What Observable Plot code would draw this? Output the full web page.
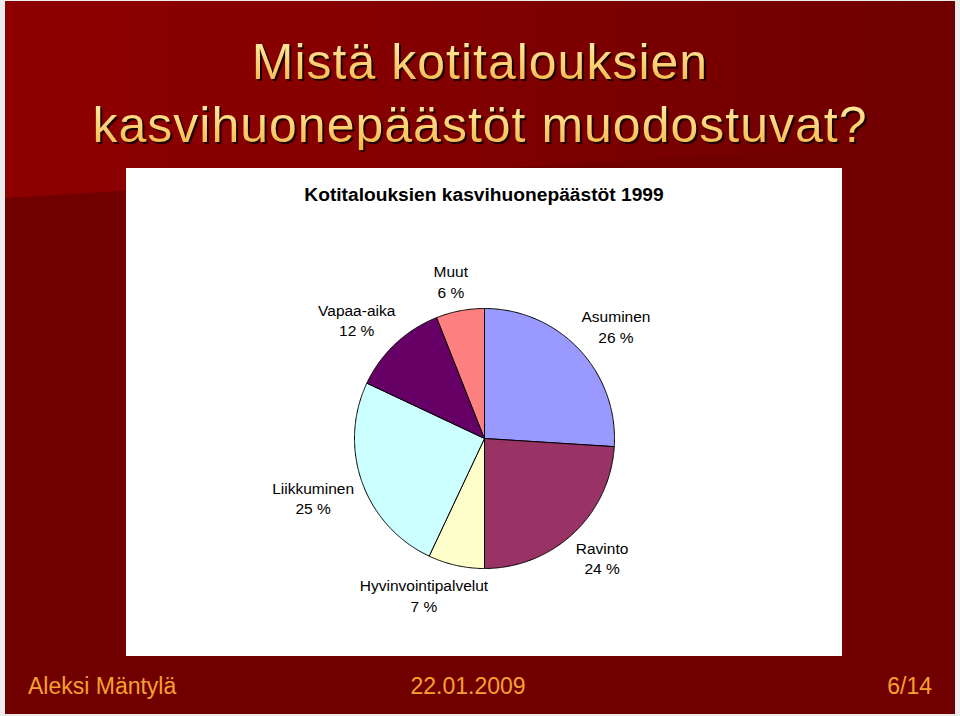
<!DOCTYPE html>
<html>
<head>
<meta charset="utf-8">
<script src="https://cdn.jsdelivr.net/npm/d3@7"></script>
<script src="https://cdn.jsdelivr.net/npm/@observablehq/plot@0.6"></script>
<style>
  html, body { margin: 0; padding: 0; }
  body { width: 960px; height: 716px; overflow: hidden; font-family: "Liberation Sans", Arial, sans-serif; }
  #page { position: relative; width: 960px; height: 716px; background: #ececec; }
  #slide { position: absolute; left: 5px; top: 1px; width: 950px; height: 713px; background: #700000; overflow: hidden; }
  #upper { position: absolute; left: 0; top: 0; width: 950px; height: 210px;
    background: linear-gradient(90deg, #8e0000 0%, #860000 35%, #760000 75%, #6f0000 100%);
    clip-path: polygon(0 0, 950px 0, 950px 140px, 0 197px); }
  .tline { position: absolute; left: 0; width: 960px; text-align: center; font-size: 50px; line-height: 50px; letter-spacing: 1px;
    background: linear-gradient(180deg, #fff0a8 0%, #ffd57c 45%, #f2b446 100%);
    -webkit-background-clip: text; background-clip: text; color: transparent;
    filter: drop-shadow(2px 2px 0.6px #1e0000); white-space: nowrap; }
  #panel { position: absolute; left: 126px; top: 168px; width: 716px; height: 488px; background: #fff; }
  #ctitle { position: absolute; left: 0; top: 16px; width: 716px; text-align: center; font-weight: bold; font-size: 19.2px; line-height: 22px; color: #000; }
  #chart { position: absolute; left: 0; top: 50px; }
  .foot { position: absolute; top: 675px; font-size: 23px; line-height: 22px; color: #f5a030; white-space: nowrap; }
</style>
</head>
<body>
<div id="page">
  <div id="slide"><div id="upper"></div></div>
  <div class="tline" style="top:37px">Mistä kotitalouksien</div>
  <div class="tline" style="top:100px">kasvihuonepäästöt muodostuvat?</div>
  <div id="panel">
    <div id="ctitle">Kotitalouksien kasvihuonepäästöt 1999</div>
    <div id="chart"></div>
  </div>
  <div class="foot" style="left:28px">Aleksi Mäntylä</div>
  <div class="foot" style="left:368px; width:200px; text-align:center">22.01.2009</div>
  <div class="foot" style="right:28px">6/14</div>
</div>
<script>
// Data (clockwise from 12 o'clock)
const categories = ["Asuminen", "Ravinto", "Hyvinvointipalvelut", "Liikkuminen", "Vapaa-aika", "Muut"];
const shares = [26, 24, 7, 25, 12, 6];
const colors = ["#9999FF", "#993366", "#FFFFCC", "#CCFFFF", "#660066", "#FF8080"];

const rows = categories.map((name, i) => ({name, value: shares[i]}));

const W = 716, H = 438;
const R = 130;
const fontSize = 15.5, lineH = 1.3;

const arcs = d3.pie().sort(null).value(d => d.value).startAngle(0).endAngle(2 * Math.PI)(rows);

// polygon vertices per slice (center -> arc -> center), angle clockwise from 12 o'clock, y up
const pts = [];
for (const a of arcs) {
  const name = a.data.name;
  pts.push({name, x: 0, y: 0});
  const n = Math.max(2, Math.ceil((a.endAngle - a.startAngle) / (Math.PI / 360)));
  for (let k = 0; k <= n; k++) {
    const t = a.startAngle + (a.endAngle - a.startAngle) * k / n;
    pts.push({name, x: R * Math.sin(t), y: R * Math.cos(t)});
  }
  pts.push({name, x: 0, y: 0});
}

// label placement outside the pie
const ctx = document.createElement("canvas").getContext("2d");
ctx.font = `${fontSize}px "Liberation Sans", Arial, sans-serif`;
const labels = arcs.map(a => {
  const text = `${a.data.name}\n${a.data.value} %`;
  const w = Math.max(...text.split("\n").map(s => ctx.measureText(s).width));
  const h = 2 * fontSize * lineH;
  const m = (a.startAngle + a.endAngle) / 2;
  const s = Math.sin(m), c = Math.cos(m);
  const ax = (R + 10) * s, ay = (R + 10) * c;
  return {
    text,
    x: ax + Math.sign(s) * Math.sqrt(Math.abs(s)) * w / 2,
    y: ay + Math.sign(c) * Math.sqrt(Math.abs(c)) * h / 2
  };
});

const chart = Plot.plot({
  width: W,
  height: H,
  margin: 0,
  x: {domain: [-358, 358], axis: null},
  y: {domain: [-218, 220], axis: null},
  color: {domain: categories, range: colors},
  style: {background: "transparent", fontFamily: '"Liberation Sans", Arial, sans-serif', color: "#000"},
  marks: [
    Plot.line(pts, {x: "x", y: "y", z: "name", fill: "name", stroke: "#000", strokeWidth: 1, strokeLinejoin: "round"}),
    Plot.text(labels, {x: "x", y: "y", text: "text", fontSize, lineHeight: lineH, lineAnchor: "middle", textAnchor: "middle", fill: "#000"})
  ]
});
document.getElementById("chart").appendChild(chart);
</script>
</body>
</html>
